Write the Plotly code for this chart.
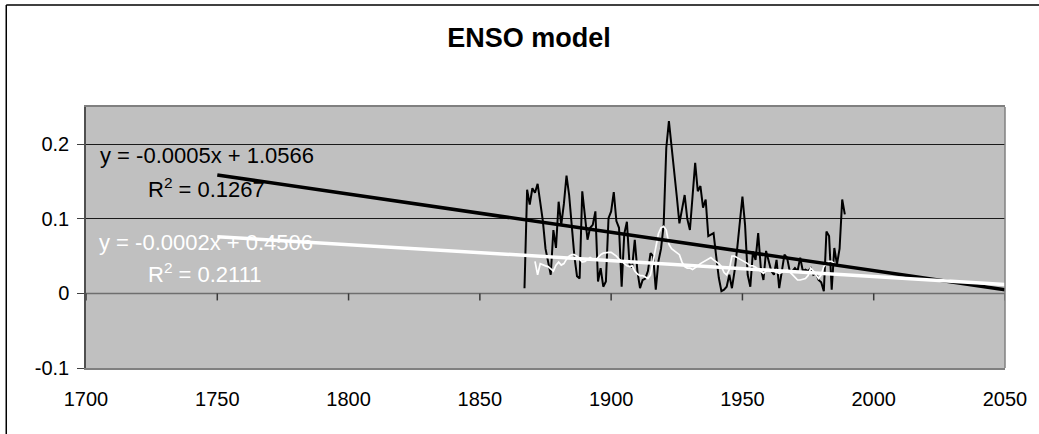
import plotly.graph_objects as go

# Annual ENSO series (black) and model series (white)
years_obs = list(range(1867, 1990))
enso_obs = [
    0.007, 0.139, 0.119, 0.141, 0.135, 0.147, 0.122, 0.097, 0.060, 0.040,  # 1867-1876
    0.025, 0.085, 0.061, 0.123, 0.092, 0.120, 0.158, 0.132, 0.090, 0.050,  # 1877-1886
    0.023, 0.020, 0.137, 0.100, 0.072, 0.088, 0.092, 0.110, 0.016, 0.034,  # 1887-1896
    0.009, 0.016, 0.101, 0.110, 0.136, 0.097, 0.088, 0.009, 0.080, 0.096,  # 1897-1906
    0.039, 0.035, 0.072, 0.030, 0.007, 0.018, 0.020, 0.030, 0.054, 0.050,  # 1907-1916
    0.005, 0.043, 0.060, 0.092, 0.195, 0.231, 0.200, 0.168, 0.130, 0.094,  # 1917-1926
    0.115, 0.132, 0.100, 0.085, 0.130, 0.175, 0.137, 0.144, 0.115, 0.126,  # 1927-1936
    0.077, 0.079, 0.081, 0.050, 0.021, 0.003, 0.005, 0.009, 0.025, 0.007,  # 1937-1946
    0.030, 0.060, 0.092, 0.130, 0.092, 0.025, 0.009, 0.056, 0.045, 0.081,  # 1947-1956
    0.034, 0.018, 0.057, 0.045, 0.030, 0.025, 0.045, 0.007, 0.030, 0.052,  # 1957-1966
    0.048, 0.030, 0.030, 0.034, 0.030, 0.048, 0.030, 0.032, 0.030, 0.034,  # 1967-1976
    0.025, 0.027, 0.018, 0.015, 0.003, 0.083, 0.077, 0.005, 0.061, 0.039,  # 1977-1986
    0.060, 0.126, 0.106,                                                   # 1987-1989
]

years_model = list(range(1871, 1986))
enso_model = [
    0.043, 0.025, 0.040, 0.038, 0.037, 0.036, 0.033, 0.030, 0.038, 0.042,  # 1871-1880
    0.038, 0.040, 0.046, 0.050, 0.052, 0.052, 0.050, 0.046, 0.042, 0.043,  # 1881-1890
    0.046, 0.048, 0.046, 0.045, 0.048, 0.052, 0.054, 0.055, 0.055, 0.055,  # 1891-1900
    0.053, 0.050, 0.046, 0.043, 0.040, 0.037, 0.036, 0.037, 0.030, 0.026,  # 1901-1910
    0.024, 0.024, 0.022, 0.020, 0.025, 0.043, 0.066, 0.080, 0.088, 0.090,  # 1911-1920
    0.085, 0.066, 0.060, 0.057, 0.054, 0.052, 0.042, 0.036, 0.034, 0.034,  # 1921-1930
    0.032, 0.034, 0.037, 0.040, 0.042, 0.044, 0.046, 0.048, 0.045, 0.043,  # 1931-1940
    0.040, 0.036, 0.028, 0.025, 0.032, 0.050, 0.050, 0.048, 0.046, 0.045,  # 1941-1950
    0.043, 0.040, 0.037, 0.037, 0.035, 0.032, 0.030, 0.027, 0.030, 0.032,  # 1951-1960
    0.031, 0.030, 0.029, 0.027, 0.028, 0.030, 0.031, 0.029, 0.025, 0.021,  # 1961-1970
    0.018, 0.018, 0.019, 0.020, 0.024, 0.034, 0.030, 0.025, 0.020, 0.025,  # 1971-1980
    0.036, 0.040, 0.043, 0.043, 0.040,                                     # 1981-1985
]

# Linear trendlines (forecast extended back to 1750 and forward to 2050)
trend_years = [1750, 2050]
obs_slope, obs_intercept = -0.000513, 1.0566
model_slope, model_intercept = -0.000214, 0.4506
obs_label = "y = -0.0005x + 1.0566"
obs_r2 = "R<sup>2</sup> = 0.1267"
model_label = "y = -0.0002x + 0.4506"
model_r2 = "R<sup>2</sup> = 0.2111"

x_ticks = [1700, 1750, 1800, 1850, 1900, 1950, 2000, 2050]
y_ticks = [-0.1, 0, 0.1, 0.2]
x_range = [1700, 2050]
y_range = [-0.1, 0.25]
axis_cross = 0  # horizontal axis crosses the vertical one here

FONT = "Liberation Sans, Arial, sans-serif"

# Plot-area geometry (pixels)
W, H = 1039, 434
L, R, T, B = 86, 31, 107, 66
pw, ph = W - L - R, H - T - B
px_per_unit = ph / (y_range[1] - y_range[0])
tick_len = 7 / px_per_unit  # tick-mark length below the crossing axis, in data units

fig = go.Figure()
# horizontal axis line at the crossing value, with its hanging tick marks
fig.add_trace(go.Scatter(x=x_range, y=[axis_cross, axis_cross], mode="lines",
                         line=dict(color="#6e6e6e", width=1.5), hoverinfo="skip"))
fig.add_trace(go.Scatter(x=x_ticks, y=[axis_cross] * len(x_ticks), mode="markers",
                         marker=dict(size=1, color="rgba(0,0,0,0)"),
                         error_y=dict(type="data", symmetric=False,
                                      array=[0] * len(x_ticks),
                                      arrayminus=[tick_len] * len(x_ticks),
                                      width=0, thickness=1.5, color="#3a3a3a"),
                         cliponaxis=False, hoverinfo="skip"))
fig.add_trace(go.Scatter(x=years_obs, y=enso_obs, mode="lines",
                         line=dict(color="black", width=2)))
fig.add_trace(go.Scatter(x=years_model, y=enso_model, mode="lines",
                         line=dict(color="white", width=1.7)))
fig.add_trace(go.Scatter(x=trend_years,
                         y=[obs_slope * t + obs_intercept for t in trend_years],
                         mode="lines", line=dict(color="black", width=3.5)))
fig.add_trace(go.Scatter(x=trend_years,
                         y=[model_slope * t + model_intercept for t in trend_years],
                         mode="lines", line=dict(color="white", width=3.5)))

fig.update_layout(
    width=W, height=H,
    margin=dict(l=L, r=R, t=T, b=B, pad=0),
    paper_bgcolor="white",
    plot_bgcolor="#C0C0C0",
    showlegend=False,
    font=dict(family=FONT, color="black", size=20),
    title=dict(text="<b>ENSO model</b>", x=529 / W, xref="container", xanchor="center",
               y=1 - 38 / H, yref="container", yanchor="middle",
               font=dict(family=FONT, size=27, color="black")),
    xaxis=dict(range=x_range, tickvals=x_ticks, ticks="", showgrid=False,
               zeroline=False, showline=True, mirror=True, linecolor="#808080",
               linewidth=1.5, tickfont=dict(size=20), ticklabelstandoff=12),
    yaxis=dict(range=y_range, tickvals=y_ticks, ticktext=["-0.1", "0", "0.1", "0.2"],
               ticks="outside", ticklen=7, tickcolor="#404040", tickwidth=1.2,
               showgrid=True, gridcolor="#1a1a1a", gridwidth=1,
               zeroline=False, showline=True, linecolor="#505050", linewidth=1.5,
               tickfont=dict(size=20), ticklabelstandoff=4),
)

# right-hand plot-area border in the lighter grey
fig.add_shape(type="line", xref="paper", yref="paper", x0=1, x1=1, y0=0, y1=1,
              line=dict(color="#808080", width=1.5))

# Outer chart-area frame: left and top edges
fx0 = (6 - L) / pw
fy1 = (H - B - 5) / ph
fig.add_shape(type="line", xref="paper", yref="paper",
              x0=fx0, x1=fx0, y0=-(B + 10) / ph, y1=fy1,
              line=dict(color="black", width=1.5), layer="below")
fig.add_shape(type="line", xref="paper", yref="paper",
              x0=fx0, x1=(W + 10 - L) / pw, y0=fy1, y1=fy1,
              line=dict(color="black", width=1.5), layer="below")

# Trendline equations
eq_font = dict(family=FONT, size=22)
fig.add_annotation(x=1704.5, y=0.1847, text=obs_label, showarrow=False,
                   xanchor="left", yanchor="middle", font=dict(eq_font, color="black"))
fig.add_annotation(x=1723.0, y=0.1418, text=obs_r2, showarrow=False,
                   xanchor="left", yanchor="middle", font=dict(eq_font, color="black"))
fig.add_annotation(x=1704.2, y=0.068, text=model_label, showarrow=False,
                   xanchor="left", yanchor="middle", font=dict(eq_font, color="white"))
fig.add_annotation(x=1723.0, y=0.0278, text=model_r2, showarrow=False,
                   xanchor="left", yanchor="middle", font=dict(eq_font, color="white"))

fig.write_html("out.html")
